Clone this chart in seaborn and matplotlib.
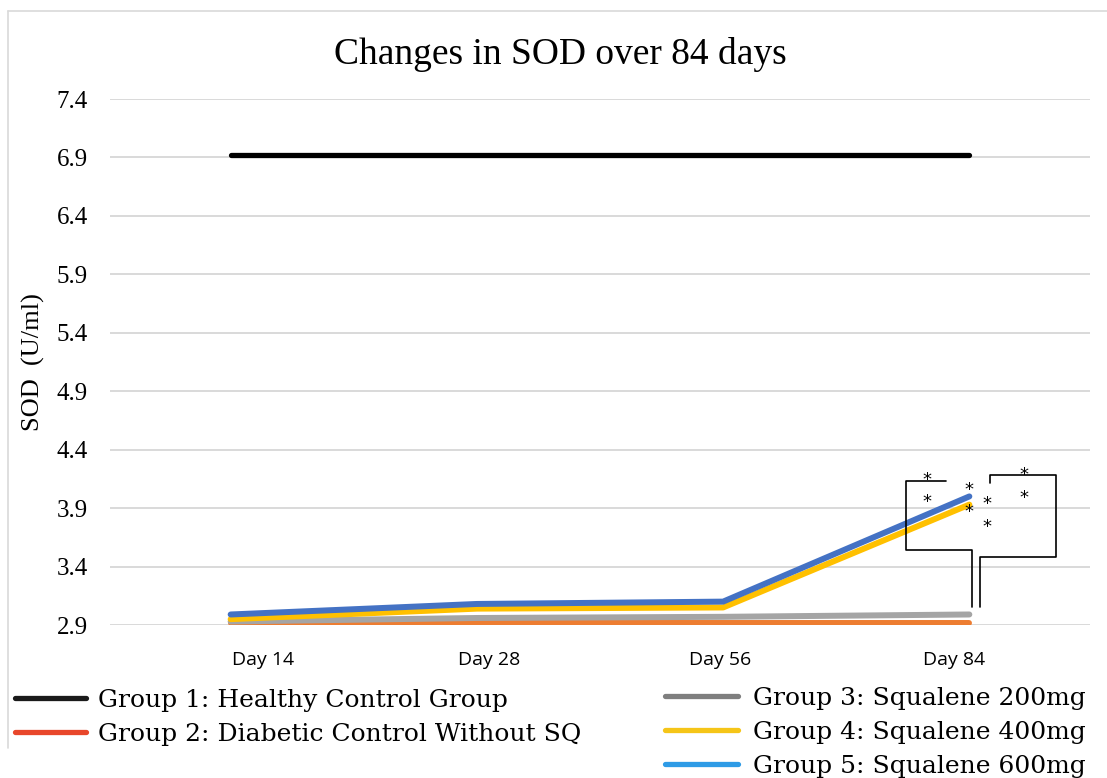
import pandas as pd
import seaborn as sns
import matplotlib.pyplot as plt
from matplotlib.lines import Line2D
from matplotlib.transforms import ScaledTranslation

days = ['Day 14', 'Day 28', 'Day 56', 'Day 84']
groups = ['Group 1: Healthy Control Group',
          'Group 2: Diabetic Control Without SQ',
          'Group 3: Squalene 200mg',
          'Group 4: Squalene 400mg',
          'Group 5: Squalene 600mg']
healthy = [6.92, 6.92, 6.92, 6.92]
diabetic = [2.92, 2.92, 2.92, 2.92]
sq200 = [2.93, 2.96, 2.97, 2.99]
sq400 = [2.95, 3.04, 3.05, 3.93]
sq600 = [2.99, 3.08, 3.10, 4.00]

line_colors = ['#000000', '#ED7D31', '#A5A5A5', '#FFC000', '#4472C4']
legend_colors = ['#1A1A1A', '#E8472B', '#7F7F7F', '#F5C518', '#2E9BE6']

rows = []
for g, vals in zip(groups, [healthy, diabetic, sq200, sq400, sq600]):
    for d, v in zip(days, vals):
        rows.append({'day': d, 'sod': v, 'group': g})
df = pd.DataFrame(rows)

sns.set_theme(style='white')
plt.rcParams['font.family'] = ['Liberation Serif', 'DejaVu Serif']
plt.rcParams['text.color'] = 'black'
plt.rcParams['axes.labelcolor'] = 'black'
plt.rcParams['xtick.color'] = 'black'
plt.rcParams['ytick.color'] = 'black'

fig = plt.figure(figsize=(11.07, 7.78), dpi=100)
ax = fig.add_axes([110 / 1107, 153 / 778, 980 / 1107, 526 / 778])

sns.lineplot(data=df, x='day', y='sod', hue='group', palette=dict(zip(groups, line_colors)),
             linewidth=4.3, legend=False, sort=False, solid_capstyle='round', ax=ax)
ax.lines[0].set_linewidth(3.8)

ax.set_ylim(2.9, 7.4)
ax.set_xlim(-0.49, 3.49)
ax.set_yticks([2.9, 3.4, 3.9, 4.4, 4.9, 5.4, 5.9, 6.4, 6.9, 7.4])
ax.set_yticklabels(['2.9', '3.4', '3.9', '4.4', '4.9', '5.4', '5.9', '6.4', '6.9', '7.4'])
ax.grid(axis='y', color='#D9D9D9', linewidth=1.4)
ax.set_axisbelow(True)
for s in ax.spines.values():
    s.set_visible(False)
ax.tick_params(axis='y', labelsize=18, pad=16, length=0)
ax.tick_params(axis='x', labelsize=14, pad=19, length=0)
for lab, dx in zip(ax.get_xticklabels(), [32, 12, -3, -15]):
    lab.set_family('Open Sans')
    lab.set_transform(lab.get_transform() + ScaledTranslation(dx / 100, 0, fig.dpi_scale_trans))
ax.set_xlabel('')
ax.set_ylabel('SOD  (U/ml)', fontsize=19)
ax.yaxis.set_label_coords(-0.066, 0.5)

fig.text(560 / 1107, 1 - 55 / 778, 'Changes in SOD over 84 days', fontsize=27,
         ha='center', va='center')

# significance brackets
bk = dict(color='black', linewidth=1.2, clip_on=False)
ax.plot([2.905, 2.742, 2.742, 3.012, 3.012], [4.132, 4.132, 3.542, 3.542, 3.057], **bk)
ax.plot([3.082, 3.082, 3.35, 3.35, 3.042, 3.042], [4.115, 4.183, 4.183, 3.482, 3.482, 3.057], **bk)
stars = [(2.826, 4.14), (2.826, 3.952), (3.0, 4.055), (3.0, 3.867),
         (3.072, 3.935), (3.072, 3.738), (3.22, 4.183), (3.22, 3.986)]
for sx, sy in stars:
    ax.text(sx, sy, '*', fontsize=13, ha='center', va='center', family='DejaVu Sans')

# legend in two blocks
h = [Line2D([], [], color=c, linewidth=3.8) for c in legend_colors]
lp = {'family': 'DejaVu Serif', 'size': 18}
fig.legend(h[:2], groups[:2], loc='center left', bbox_to_anchor=(15 / 1107, 1 - 717 / 778),
           frameon=False, prop=lp, borderpad=0,
           borderaxespad=0, handlelength=2.85, handletextpad=0.45, labelspacing=0.44)
fig.legend(h[2:], groups[2:], loc='center left', bbox_to_anchor=(665 / 1107, 1 - 732 / 778),
           frameon=False, prop=lp, borderpad=0,
           borderaxespad=0, handlelength=2.9, handletextpad=0.62, labelspacing=0.44)

# chart frame
fig.add_artist(Line2D([8 / 1107, 8 / 1107], [1 - 748 / 778, 1 - 11 / 778],
                      transform=fig.transFigure, color='#D9D9D9', linewidth=1.2))
fig.add_artist(Line2D([8 / 1107, 1], [1 - 11 / 778, 1 - 11 / 778],
                      transform=fig.transFigure, color='#D9D9D9', linewidth=1.2))

fig.savefig('out.png', dpi=100)
